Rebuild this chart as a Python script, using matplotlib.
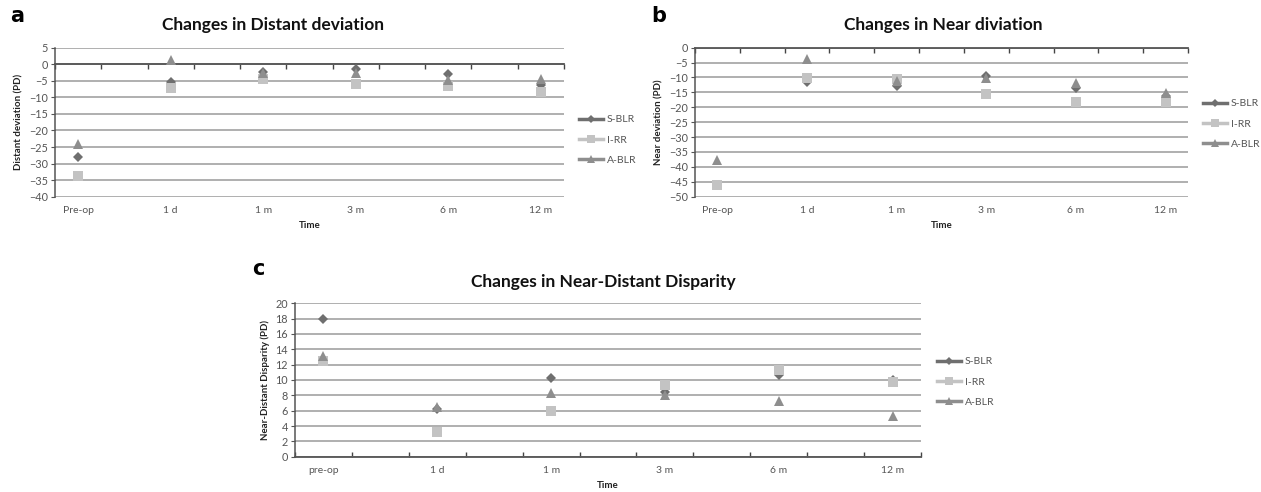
import matplotlib
matplotlib.use("Agg")
import matplotlib.pyplot as plt
import numpy as np
from matplotlib.ticker import FixedLocator, MultipleLocator
from matplotlib.lines import Line2D

# ---- data ----
times_ab = ["Pre-op", "1 d", "1 m", "3 m", "6 m", "12 m"]
times_c = ["pre-op", "1 d", "1 m", "3 m", "6 m", "12 m"]
series = ["S-BLR", "I-RR", "A-BLR"]

distant_sblr = [-28.1, -5.5, -2.2, -1.4, -3.0, -6.3]
distant_irr = [-33.7, -7.1, -4.6, -6.0, -6.5, -8.3]
distant_ablr = [-24.2, 1.3, -2.6, -2.6, -4.8, -4.4]

near_sblr = [-46.0, -11.6, -12.7, -9.5, -13.4, -16.2]
near_irr = [-46.2, -10.3, -10.5, -15.4, -18.1, -18.1]
near_ablr = [-37.7, -3.7, -11.2, -10.3, -11.8, -15.1]

disp_sblr = [18.0, 6.2, 10.3, 8.5, 10.6, 10.0]
disp_irr = [12.5, 3.2, 5.9, 9.3, 11.3, 9.8]
disp_ablr = [13.1, 6.5, 8.3, 8.0, 7.3, 5.3]

colors = {"S-BLR": "#6f6f6f", "I-RR": "#c3c3c3", "A-BLR": "#8e8e8e"}
markers = {"S-BLR": "D", "I-RR": "s", "A-BLR": "^"}
msizes = {"S-BLR": 5.5, "I-RR": 7.5, "A-BLR": 7.5}

FONT = "Lato"
plt.rcParams['font.family'] = [FONT, 'DejaVu Sans']

W, H = 1261, 492
fig = plt.figure(figsize=(W / 100, H / 100), dpi=100)


def px_axes(left, top, right, bottom):
    return fig.add_axes([left / W, 1 - bottom / H, (right - left) / W, (bottom - top) / H])


def setup(ax, labels, ylim, ystep, axis_at_zero_top, ylabel):
    pos = np.arange(len(labels)) * 2
    ax.set_xlim(-0.5, 2 * len(labels) - 1.5)
    ax.set_ylim(*ylim)
    ax.yaxis.set_major_locator(MultipleLocator(ystep))
    ax.grid(axis='y', color='#a9a9a9', linewidth=1.3)
    ax.set_axisbelow(True)
    for s in ['right', 'top', 'bottom', 'left']:
        ax.spines[s].set_visible(False)
    ax.spines['left'].set_visible(True)
    ax.spines['left'].set_color('#555555')
    ax.spines['left'].set_linewidth(1.1)
    ax.xaxis.set_major_locator(FixedLocator(pos))
    ax.set_xticklabels(labels)
    ax.xaxis.set_minor_locator(FixedLocator(np.arange(-0.5, 2 * len(labels) - 1.0, 1.0)))
    ax.tick_params(axis='x', which='major', length=0, labelsize=7.5, labelcolor='#555555', pad=7)
    ax.tick_params(axis='y', which='major', length=3, direction='out', color='#555555',
                   labelsize=7.8, labelcolor='#555555', pad=2)
    if axis_at_zero_top:
        ax.spines['top'].set_visible(True)
        ax.spines['top'].set_position(('data', 0))
        ax.spines['top'].set_color('#555555')
        ax.spines['top'].set_linewidth(1.3)
        ax.tick_params(axis='x', which='minor', top=True, bottom=False, direction='in',
                       length=3.5, color='#444444', width=1.0)
    else:
        ax.spines['bottom'].set_visible(True)
        ax.spines['bottom'].set_color('#555555')
        ax.spines['bottom'].set_linewidth(1.3)
        ax.tick_params(axis='x', which='minor', top=False, bottom=True, direction='in',
                       length=3.5, color='#444444', width=1.0)
    ax.set_ylabel(ylabel, fontsize=7, fontweight='bold', color='#222222', labelpad=4)
    ax.set_xlabel("Time", fontsize=7, fontweight='bold', color='#222222', labelpad=4)
    return pos


def plot_series(ax, pos, data):
    for name, vals in zip(series, data):
        ax.plot(pos, vals, linestyle='none', marker=markers[name], color=colors[name],
                markersize=msizes[name], markeredgewidth=0, zorder=3)


def legend(x, y):
    handles = [Line2D([0], [0], color=colors[n], marker=markers[n], lw=2.5,
                      markersize=msizes[n] * 0.8, markeredgewidth=0) for n in series]
    fig.legend(handles, series, loc='upper left', bbox_to_anchor=(x / W, 1 - y / H),
               frameon=False, fontsize=7.5, labelcolor='#555555', handlelength=2.3,
               labelspacing=1.05, handletextpad=0.35, borderaxespad=0)


# panel a
axa = px_axes(55, 47.7, 564, 196.7)
pa = setup(axa, times_ab, (-40, 5), 5, True, "Distant deviation (PD)")
plot_series(axa, pa, [distant_sblr, distant_irr, distant_ablr])
legend(575, 111)

# panel b
axb = px_axes(695, 47.7, 1188, 196.7)
pb = setup(axb, times_ab, (-50, 0), 5, True, "Near deviation (PD)")
plot_series(axb, pb, [near_sblr, near_irr, near_ablr])
legend(1199, 95)

# panel c
axc = px_axes(295, 303.3, 921, 456.7)
pc = setup(axc, times_c, (0, 20), 2, False, "Near-Distant Disparity (PD)")
plot_series(axc, pc, [disp_sblr, disp_irr, disp_ablr])
legend(933, 353)

# titles and panel letters
fig.text(273 / W, 1 - 25 / H, "Changes in Distant deviation", ha='center', va='center',
         fontsize=12.5, fontweight='bold', color='#111111')
fig.text(943 / W, 1 - 25 / H, "Changes in Near diviation", ha='center', va='center',
         fontsize=12.5, fontweight='bold', color='#111111')
fig.text(603 / W, 1 - 282 / H, "Changes in Near-Distant Disparity", ha='center', va='center',
         fontsize=12.5, fontweight='bold', color='#111111')
for lx, ly, t in [(10, 16, "a"), (651, 16, "b"), (252, 269, "c")]:
    fig.text(lx / W, 1 - ly / H, t, ha='left', va='center', fontsize=15, fontweight='bold',
             family='DejaVu Sans', color='#000000')

fig.savefig("out.png", dpi=100, facecolor='white')
